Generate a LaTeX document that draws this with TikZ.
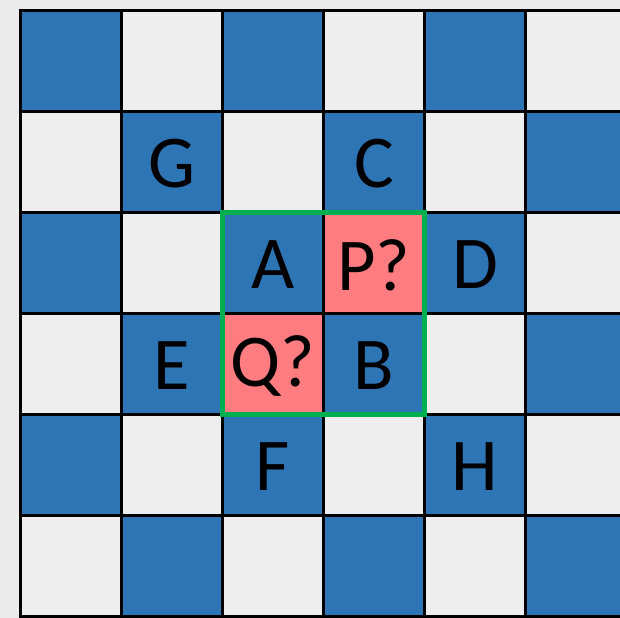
\documentclass[tikz,border=0pt]{standalone}
\usepackage{fontspec}
\setmainfont{Carlito}
\definecolor{boardblue}{HTML}{2E75B6}
\definecolor{boardlight}{HTML}{EEEEEE}
\definecolor{boardbg}{HTML}{EBEBEB}
\definecolor{guesspink}{HTML}{FF7C80}
\definecolor{framegreen}{HTML}{00B050}
\tikzset{
  cellmark/.style={font=\fontsize{21}{25}\selectfont, inner sep=0pt},
  cellline/.style={draw=black, line width=0.6pt}
}
\begin{document}
\begin{tikzpicture}[x=1cm,y=-1cm]
  \useasboundingbox (-0.203,-0.104) rectangle (5.936,6.015);
  \fill[boardbg] (-0.203,-0.104) rectangle (5.936,6.015);
  \clip (-0.203,-0.104) rectangle (5.936,6.015);
  % checkerboard
  \foreach \i in {0,...,5}
    \foreach \j in {0,...,5} {
      \pgfmathtruncatemacro{\cellparity}{mod(\i+\j,2)}
      \ifnum\cellparity=0 \def\cellcol{boardblue}\else\def\cellcol{boardlight}\fi
      \filldraw[fill=\cellcol, cellline] (\i,\j) rectangle ++(1,1);
    }
  % unknown squares
  \filldraw[fill=guesspink, cellline] (3,2) rectangle ++(1,1);
  \filldraw[fill=guesspink, cellline] (2,3) rectangle ++(1,1);
  \draw[framegreen, line width=1.4pt] (2,2) rectangle (4,4);
  % letters
  \node[cellmark] (G) at (1.5,1.52) {G};
  \node[cellmark] (C) at (3.5,1.52) {C};
  \node[cellmark] (A) at (2.5,2.52) {A};
  \node[cellmark] (P) at (3.5,2.52) {P?};
  \node[cellmark] (D) at (4.5,2.52) {D};
  \node[cellmark] (E) at (1.5,3.52) {E};
  \node[cellmark] (Q) at (2.5,3.52) {Q?};
  \node[cellmark] (B) at (3.5,3.52) {B};
  \node[cellmark] (F) at (2.5,4.52) {F};
  \node[cellmark] (H) at (4.5,4.52) {H};
\end{tikzpicture}
\end{document}
